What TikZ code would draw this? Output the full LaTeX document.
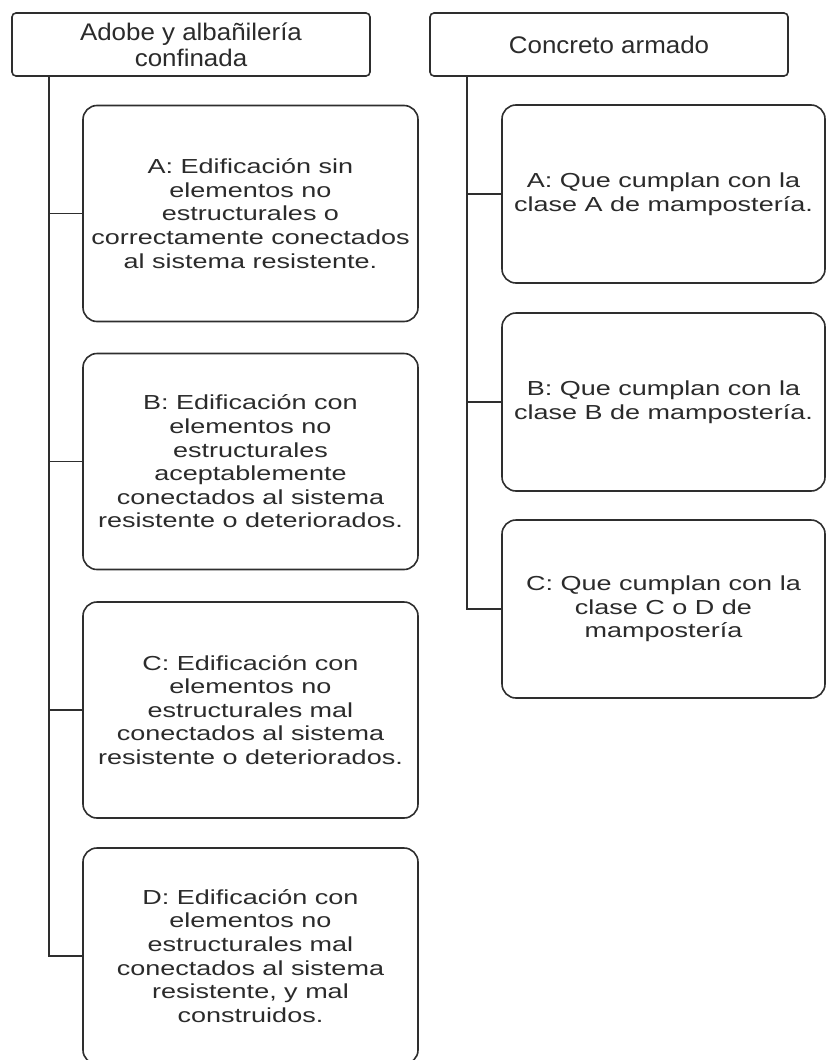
\documentclass[tikz,border=0pt]{standalone}
\usepackage{fontspec}
\setmainfont{Liberation Sans}
\newfontfamily\hdrfont[FakeStretch=1.08]{Liberation Sans}
\newfontfamily\boxfont[FakeStretch=1.33]{Liberation Sans}
\definecolor{linec}{HTML}{2E2E2E}
\definecolor{textc}{HTML}{2B2B2B}
\begin{document}
\begin{tikzpicture}[x=1pt,y=-1pt,
  hdr/.style={draw=linec,line width=1.6pt,rounded corners=4pt,fill=white,
    minimum width=358pt,minimum height=63pt,align=center,text=textc,
    font=\hdrfont\fontsize{24}{26}\selectfont,inner sep=0pt},
  itembox/.style={draw=linec,line width=1.6pt,rounded corners=14pt,fill=white,
    align=center,text=textc,font=\boxfont\fontsize{20.3}{23.6}\selectfont,inner sep=0pt},
  lbox/.style={itembox,minimum width=335pt,minimum height=216pt},
  rbox/.style={itembox,minimum width=323pt,minimum height=178pt},
  conn/.style={draw=linec,line width=1.6pt}]
\useasboundingbox (0,0) rectangle (826,1060);
\node[hdr] (hl) at (191,44.5) {Adobe y albañilería\\confinada};
\node[hdr] (hr) at (609,44.5) {Concreto armado};
\node[lbox] (lA) at (250.5,213.5) {A: Edificación sin\\elementos no\\estructurales o\\correctamente conectados\\al sistema resistente.};
\node[lbox] (lB) at (250.5,461.5) {B: Edificación con\\elementos no\\estructurales\\aceptablemente\\conectados al sistema\\resistente o deteriorados.};
\node[lbox] (lC) at (250.5,710) {C: Edificación con\\elementos no\\estructurales mal\\conectados al sistema\\resistente o deteriorados.};
\node[lbox] (lD) at (250.5,956) {D: Edificación con\\elementos no\\estructurales mal\\conectados al sistema\\resistente, y mal\\construidos.};
\node[rbox] (rA) at (663.5,194) {A: Que cumplan con la\\clase A de mampostería.};
\node[rbox] (rB) at (663.5,402) {B: Que cumplan con la\\clase B de mampostería.};
\node[rbox] (rC) at (663.5,609) {C: Que cumplan con la\\clase C o D de\\mampostería};
\coordinate (tl) at (49,76);
\coordinate (tr) at (467,76);
\draw[conn] (tl) |- (lD.west);
\draw[conn] (tl |- lA.west) -- (lA.west);
\draw[conn] (tl |- lB.west) -- (lB.west);
\draw[conn] (tl |- lC.west) -- (lC.west);
\draw[conn] (tr) |- (rC.west);
\draw[conn] (tr |- rA.west) -- (rA.west);
\draw[conn] (tr |- rB.west) -- (rB.west);
\end{tikzpicture}
\end{document}
